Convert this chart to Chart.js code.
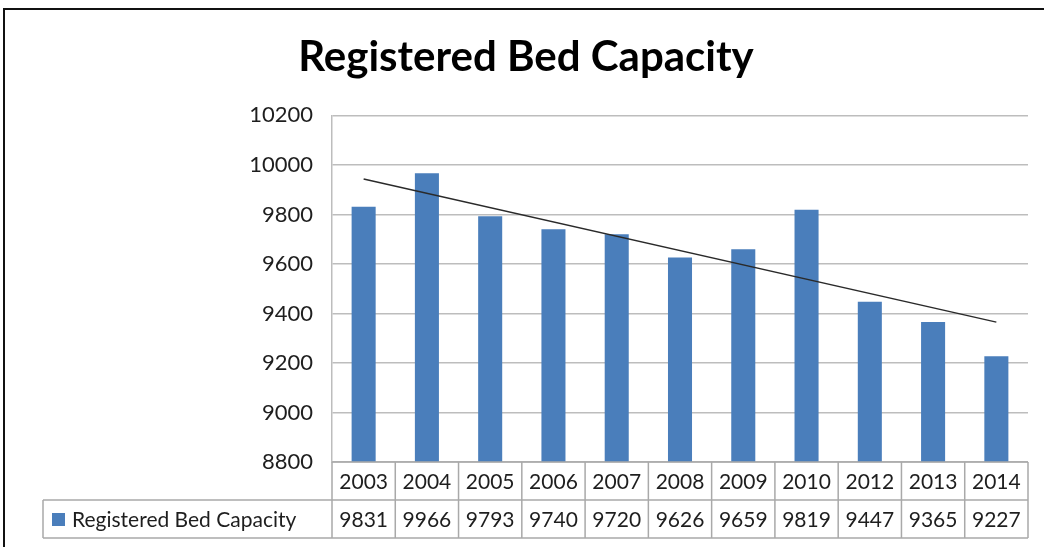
<!DOCTYPE html>
<html>
<head>
<meta charset="utf-8">
<title>Registered Bed Capacity</title>
<script src="https://cdn.jsdelivr.net/npm/chart.js@4.4.1/dist/chart.umd.min.js"></script>
<style>
  html, body { margin: 0; padding: 0; background: #fff; overflow: hidden; }
  canvas { display: block; }
</style>
</head>
<body>
<canvas id="bedChart" width="1044" height="547"></canvas>
<script>
const years = ['2003', '2004', '2005', '2006', '2007', '2008', '2009', '2010', '2012', '2013', '2014'];
const bedCapacity = [9831, 9966, 9793, 9740, 9720, 9626, 9659, 9819, 9447, 9365, 9227];
// linear trend line, value at the first and last year
const trendEnds = [9943, 9365];
const yMin = 8800;
const yMax = 10200;
const yStep = 200;

const seriesName = 'Registered Bed Capacity';
const barColor = '#4a7ebb';
const gridColor = '#bdbdbd';
const textColor = '#1e1e1e';

const trendData = years.map((_, i) =>
  i === 0 ? trendEnds[0] : (i === years.length - 1 ? trendEnds[1] : null));

// black frame along the top and left edge of the chart box
const chartFrame = {
  id: 'chartFrame',
  beforeDraw(chart) {
    const { ctx, width, height } = chart;
    ctx.save();
    ctx.strokeStyle = '#111';
    ctx.lineWidth = 2;
    ctx.beginPath();
    ctx.moveTo(width, 9);
    ctx.lineTo(4, 9);
    ctx.lineTo(4, height);
    ctx.stroke();
    ctx.restore();
  }
};

// excel style data table under the plot: year row, value row, legend key
const dataTable = {
  id: 'dataTable',
  afterDraw(chart, args, opts) {
    const { ctx, chartArea: a, scales: { x } } = chart;
    const n = years.length;
    const colW = a.width / n;
    const r1 = a.bottom;
    const r2 = r1 + opts.rowHeight;
    const r3 = r2 + opts.rowHeight;
    const left = opts.legendLeft;

    ctx.save();
    ctx.strokeStyle = opts.lineColor;
    ctx.lineWidth = 1.5;
    ctx.beginPath();
    ctx.moveTo(a.left, r1); ctx.lineTo(a.right, r1);
    ctx.moveTo(left, r2); ctx.lineTo(a.right, r2);
    ctx.moveTo(left, r3); ctx.lineTo(a.right, r3);
    for (let i = 0; i <= n; i++) {
      const px = a.left + i * colW;
      ctx.moveTo(px, r1); ctx.lineTo(px, r3);
    }
    ctx.moveTo(left, r2); ctx.lineTo(left, r3);
    ctx.stroke();

    ctx.font = opts.font;
    ctx.fillStyle = textColor;
    ctx.textAlign = 'center';
    ctx.textBaseline = 'middle';
    years.forEach((yr, i) => {
      const cx = x.getPixelForValue(i);
      ctx.fillText(yr, cx, (r1 + r2) / 2 + 1);
      ctx.fillText(String(bedCapacity[i]), cx, (r2 + r3) / 2 + 1);
    });

    const ds = chart.data.datasets[0];
    const my = (r2 + r3) / 2;
    ctx.fillStyle = ds.backgroundColor;
    ctx.fillRect(left + 9, my - 6, 13, 13);
    ctx.fillStyle = textColor;
    ctx.textAlign = 'left';
    ctx.fillText(ds.label, left + 29, my + 1);
    ctx.restore();
  }
};

new Chart(document.getElementById('bedChart'), {
  type: 'bar',
  plugins: [chartFrame, dataTable],
  data: {
    labels: years,
    datasets: [{
      type: 'bar',
      label: seriesName,
      data: bedCapacity,
      backgroundColor: barColor,
      barPercentage: 0.38,
      categoryPercentage: 1.0,
      order: 1
    }, {
      type: 'line',
      label: 'Linear trend',
      data: trendData,
      spanGaps: true,
      borderColor: '#2a2a2a',
      borderWidth: 1.5,
      pointRadius: 0,
      fill: false,
      order: 0
    }]
  },
  options: {
    responsive: false,
    animation: false,
    layout: { padding: { left: 24, right: 16, top: 0, bottom: 0 } },
    plugins: {
      legend: { display: false },
      tooltip: { enabled: false },
      title: {
        display: true,
        text: 'Registered Bed Capacity',
        color: '#000',
        font: { family: 'Lato', size: 42, weight: 'bold' },
        padding: { top: 32, bottom: 33 }
      },
      dataTable: {
        rowHeight: 38,
        legendLeft: 43,
        lineColor: '#a9a9a9',
        font: '21px Lato'
      }
    },
    scales: {
      x: {
        grid: { display: false },
        border: { display: false },
        ticks: { display: false },
        afterFit(scale) { scale.height = 85; }
      },
      y: {
        min: yMin,
        max: yMax,
        grid: { color: gridColor, lineWidth: 1.5, drawTicks: false },
        border: { display: true, color: gridColor, width: 1.5 },
        ticks: {
          stepSize: yStep,
          padding: 19,
          color: textColor,
          font: { family: 'Lato', size: 22 },
          callback: (v) => String(v)
        },
        afterFit(scale) { scale.width = 308; }
      }
    }
  }
});
</script>
</body>
</html>
